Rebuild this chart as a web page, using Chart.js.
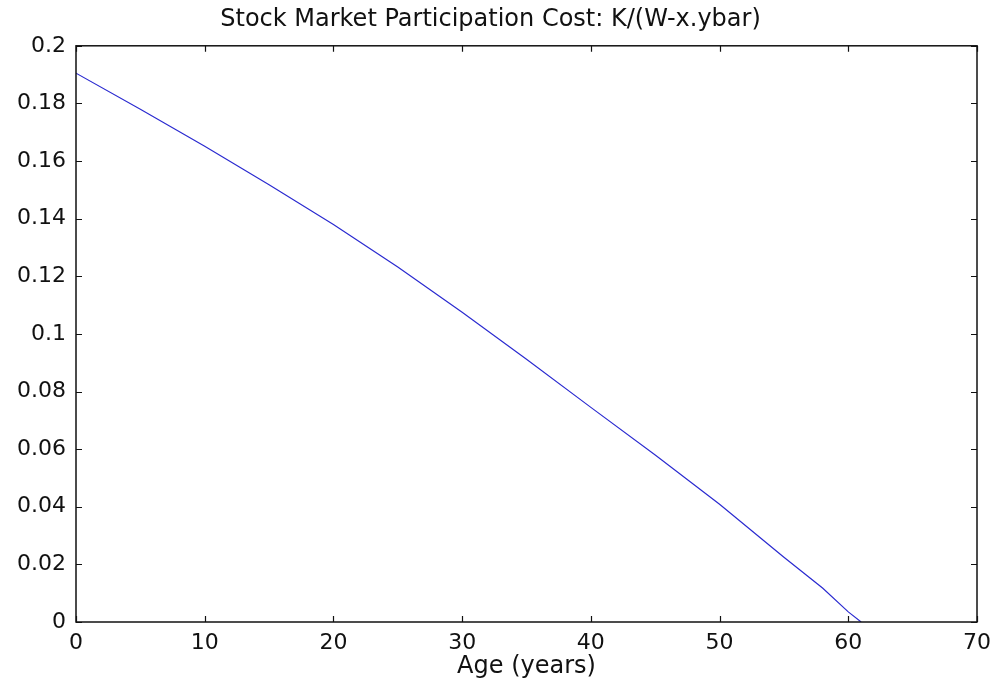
<!DOCTYPE html>
<html>
<head>
<meta charset="utf-8">
<script src="https://cdn.jsdelivr.net/npm/chart.js@4.4.1/dist/chart.umd.min.js"></script>
<style>
  html, body { margin: 0; padding: 0; background: #ffffff; }
  #wrap { width: 999px; height: 684px; position: relative; }
</style>
</head>
<body>
<div id="wrap"><canvas id="c" width="999" height="684"></canvas></div>
<script>
const titleText = 'Stock Market Participation Cost: K/(W-x.ybar)';
const xTitle = 'Age (years)';
const ages = [0, 5, 10, 15, 20, 25, 30, 35, 40, 45, 50, 55, 58, 60, 61];
const cost = [0.1905, 0.1780, 0.1651, 0.1518, 0.1380, 0.1232, 0.1075, 0.0912, 0.0745, 0.0580, 0.0409, 0.0225, 0.0118, 0.0035, 0.0];
const yTickValues = [0, 0.02, 0.04, 0.06, 0.08, 0.1, 0.12, 0.14, 0.16, 0.18, 0.2];
const yTickLabels = ['0', '0.02', '0.04', '0.06', '0.08', '0.1', '0.12', '0.14', '0.16', '0.18', '0.2'];
const xTickValues = [0, 10, 20, 30, 40, 50, 60, 70];
const xTickLabels = ['0', '10', '20', '30', '40', '50', '60', '70'];

const tickFont = { family: 'DejaVu Sans', size: 22 };

const framePlugin = {
  id: 'frame',
  afterDatasetsDraw(chart) {
    const { ctx, chartArea: a, scales } = chart;
    ctx.save();
    ctx.strokeStyle = '#111111';
    ctx.lineWidth = 1.5;
    ctx.strokeRect(a.left, a.top, a.right - a.left, a.bottom - a.top);
    const tl = 6;
    ctx.beginPath();
    xTickValues.forEach(v => {
      const px = Math.round(scales.x.getPixelForValue(v)) + 0.5;
      ctx.moveTo(px, a.bottom); ctx.lineTo(px, a.bottom - tl);
      ctx.moveTo(px, a.top); ctx.lineTo(px, a.top + tl);
    });
    yTickValues.forEach(v => {
      const py = Math.round(scales.y.getPixelForValue(v)) + 0.5;
      ctx.moveTo(a.left, py); ctx.lineTo(a.left + tl, py);
      ctx.moveTo(a.right, py); ctx.lineTo(a.right - tl, py);
    });
    ctx.lineWidth = 1.2;
    ctx.stroke();
    ctx.restore();
  }
};

new Chart(document.getElementById('c'), {
  type: 'line',
  data: {
    datasets: [{
      data: ages.map((a, i) => ({ x: a, y: cost[i] })),
      borderColor: '#2b2bd0',
      borderWidth: 1.2,
      pointRadius: 0,
      fill: false,
      tension: 0
    }]
  },
  options: {
    responsive: false,
    animation: false,
    devicePixelRatio: 1,
    layout: { padding: { left: 0, right: 18, top: 0, bottom: 0 } },
    plugins: {
      legend: { display: false },
      tooltip: { enabled: false },
      title: {
        display: true,
        text: titleText,
        color: '#111111',
        font: { family: 'DejaVu Sans', size: 24, weight: 'normal' },
        padding: { top: 5, bottom: 12 }
      }
    },
    scales: {
      x: {
        type: 'linear',
        min: 0, max: 70,
        afterBuildTicks: s => { s.ticks = xTickValues.map(v => ({ value: v })); },
        afterFit: s => { s.height = 62; },
        grid: { display: false, drawTicks: false },
        border: { display: false },
        ticks: {
          color: '#111111',
          font: tickFont,
          padding: 8,
          maxRotation: 0,
          callback: (v) => xTickLabels[xTickValues.indexOf(v)]
        },
        title: {
          display: true,
          text: xTitle,
          color: '#111111',
          font: { family: 'DejaVu Sans', size: 24 },
          padding: { top: 2, bottom: 3 }
        }
      },
      y: {
        type: 'linear',
        min: 0, max: 0.2,
        afterBuildTicks: s => { s.ticks = yTickValues.map(v => ({ value: v })); },
        afterFit: s => { s.width = 76; },
        grid: { display: false, drawTicks: false },
        border: { display: false },
        ticks: {
          color: '#111111',
          font: tickFont,
          padding: 10,
          callback: (v) => yTickLabels[yTickValues.indexOf(v)]
        }
      }
    }
  },
  plugins: [framePlugin]
});
</script>
</body>
</html>
